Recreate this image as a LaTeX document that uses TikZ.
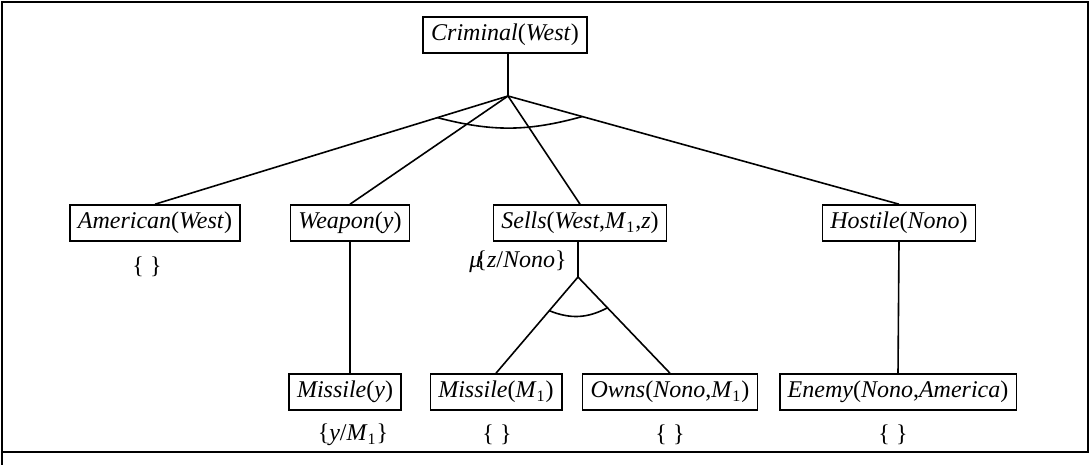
\documentclass[tikz,border=0pt]{standalone}
\usepackage{fontspec}
\setmainfont{Liberation Serif}
\usetikzlibrary{calc}

\begin{document}
\begin{tikzpicture}[
    x=0.5pt, y=-0.5pt,
    goal/.style={draw, line width=0.8pt, minimum height=18pt, inner xsep=4pt, font=\fontsize{12}{14}\selectfont},
    subst/.style={font=\fontsize{12}{14}\selectfont},
    link/.style={line width=0.8pt}
]
    \useasboundingbox (0,0) rectangle (1091,465);
    \draw[line width=1pt] (2,2) rectangle (1088,452);
    \draw[line width=1pt] (2,452) -- (2,465);

    \node[goal] (crim) at (505,35) {\textit{Criminal}(\textit{West})};
    \node[goal] (amer) at (155,223) {\textit{American}(\textit{West})};
    \node[goal] (weap) at (350,223) {\textit{Weapon}(\textit{y})};
    \node[goal] (sells) at (580,223) {\textit{Sells}(\textit{West},\textit{M}\textsubscript{1},\textit{z})};
    \node[goal] (host) at (899,223) {\textit{Hostile}(\textit{Nono})};
    \node[goal] (missy) at (345,392) {\textit{Missile}(\textit{y})};
    \node[goal] (missm) at (496,392) {\textit{Missile}(\textit{M}\textsubscript{1})};
    \node[goal] (owns) at (670,392) {\textit{Owns}(\textit{Nono},\textit{M}\textsubscript{1})};
    \node[goal] (enemy) at (898,392) {\textit{Enemy}(\textit{Nono},\textit{America})};

    \coordinate (jtop) at (508,96);
    \coordinate (jsells) at (578,277);

    \node[subst] (samer) at (147,267) {\{\ \}};
    \node[subst] (szn) at (518,262) {\textit{μ}\kern-3pt\{\textit{z}/\textit{Nono}\}};
    \node[subst] (smissy) at (353,435) {\{\textit{y}/\textit{M}\textsubscript{1}\}};
    \node[subst] (smissm) at (497,435) {\{\ \}};
    \node[subst] (sowns) at (670,435) {\{\ \}};
    \node[subst] (senemy) at (893,435) {\{\ \}};

    \draw[link] (jtop |- crim.south) -- (jtop);
    \draw[link] (jtop) -- (amer.north);
    \draw[link] (jtop) -- (weap.north);
    \draw[link] (jtop) -- (sells.north);
    \draw[link] (jtop) -- (host.north);
    \draw[link] ($(jtop)!0.2!(amer.north)$) to[bend right=15] ($(jtop)!0.19!(host.north)$);

    \draw[link] (jsells |- sells.south) -- (jsells);
    \draw[link] (jsells) -- (missm.north);
    \draw[link] (jsells) -- (owns.north);
    \draw[link] ($(jsells)!0.35!(missm.north)$) to[bend right=25] ($(jsells)!0.32!(owns.north)$);

    \draw[link] (weap.south) -- (weap.south |- missy.north);
    \draw[link] (host.south) -- (enemy.north);
\end{tikzpicture}
\end{document}
